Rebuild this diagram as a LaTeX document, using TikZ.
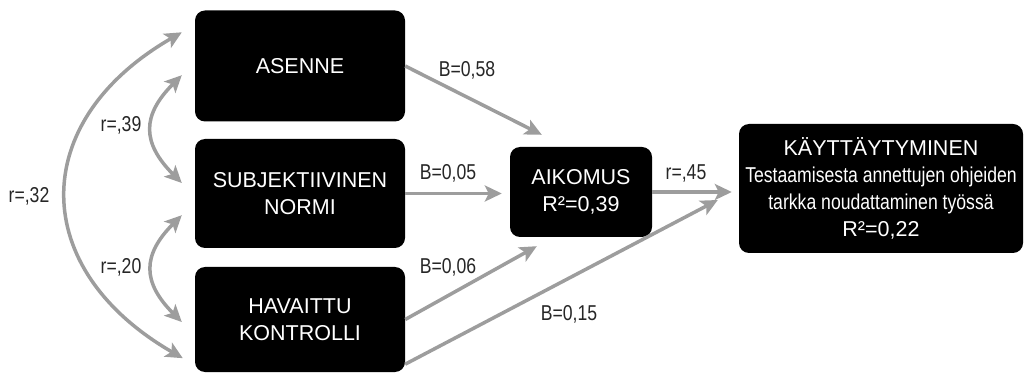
\documentclass[tikz,border=0pt]{standalone}
\usepackage{fontspec}
\setmainfont{Liberation Sans}
\newfontfamily\titlefont{Liberation Sans}
\newfontfamily\narrowfont[FakeStretch=0.82]{Liberation Sans}
\usetikzlibrary{calc,arrows.meta}
\definecolor{arrowgray}{HTML}{9D9D9D}
\definecolor{labtext}{HTML}{262626}
\tikzset{
  box/.style={fill=black, rounded corners=10pt, text=white, align=center, inner sep=0pt, font=\titlefont\fontsize{21.5}{27}\selectfont},
  arr/.style={draw=arrowgray, line width=3.5pt, -{Stealth[length=17pt,width=16pt,inset=4pt]}},
  dbl/.style={draw=arrowgray, line width=3.5pt, {Stealth[length=17pt,width=16pt,inset=4pt]}-{Stealth[length=17pt,width=16pt,inset=4pt]}},
  lab/.style={text=labtext, anchor=base, inner sep=0pt, font=\narrowfont\fontsize{21.5}{27}\selectfont},
}
\begin{document}
\begin{tikzpicture}[x=1pt,y=1pt]
  \useasboundingbox (0,0) rectangle (1025,375);

  \node[box, minimum width=210pt, minimum height=111pt] (asenne) at (300,309) {ASENNE};
  \node[box, minimum width=210pt, minimum height=109pt] (subj) at (300,181.5) {SUBJEKTIIVINEN\\NORMI};
  \node[box, minimum width=210pt, minimum height=105pt] (hav) at (300,55.5) {HAVAITTU\\KONTROLLI};
  \node[box, minimum width=142pt, minimum height=90pt] (aikomus) at (581,183) {AIKOMUS\\R²=0,39};
  \node[box, minimum width=284pt, minimum height=129pt] (kayt) at (881,186.5)
    {KÄYTTÄYTYMINEN\\\narrowfont Testaamisesta annettujen ohjeiden\\\narrowfont tarkka noudattaminen työssä\\R²=0,22};

  \draw[arr] (asenne.east) -- ($(aikomus.north west)+(32,12)$);
  \draw[arr, shorten >=8pt] (subj.east) -- (subj.east -| aikomus.west);
  \draw[arr] (hav.east) -- ($(aikomus.south west)+(27,-9)$);
  \draw[arr, shorten >=7pt] (aikomus.east) -- (aikomus.east -| kayt.west);
  \draw[arr] ($(hav.south east)+(0,8)$) -- ($(kayt.west)+(-21,-11.5)$);

  \draw[dbl] ($(asenne.north west)+(-13,-22)$) to[out=210, in=150, looseness=1.4] ($(hav.south west)+(-12,14)$);
  \draw[dbl] ($(asenne.south west)+(-13,46.5)$) to[out=225, in=135, looseness=1.35] ($(subj.west)+(-13,10.5)$);
  \draw[dbl] ($(subj.south west)+(-13,33)$) to[out=225, in=135, looseness=1.35] ($(hav.west)+(-13,-2.5)$);

  \node[lab] (r32) at (29,172) {r=,32};
  \node[lab] (r39) at (121,243) {r=,39};
  \node[lab] (r20) at (121,102) {r=,20};
  \node[lab] (b58) at (467,298) {B=0,58};
  \node[lab] (b05) at (448,195) {B=0,05};
  \node[lab] (r45) at (686,195) {r=,45};
  \node[lab] (b06) at (448,102) {B=0,06};
  \node[lab] (b15) at (569,55) {B=0,15};
\end{tikzpicture}
\end{document}
